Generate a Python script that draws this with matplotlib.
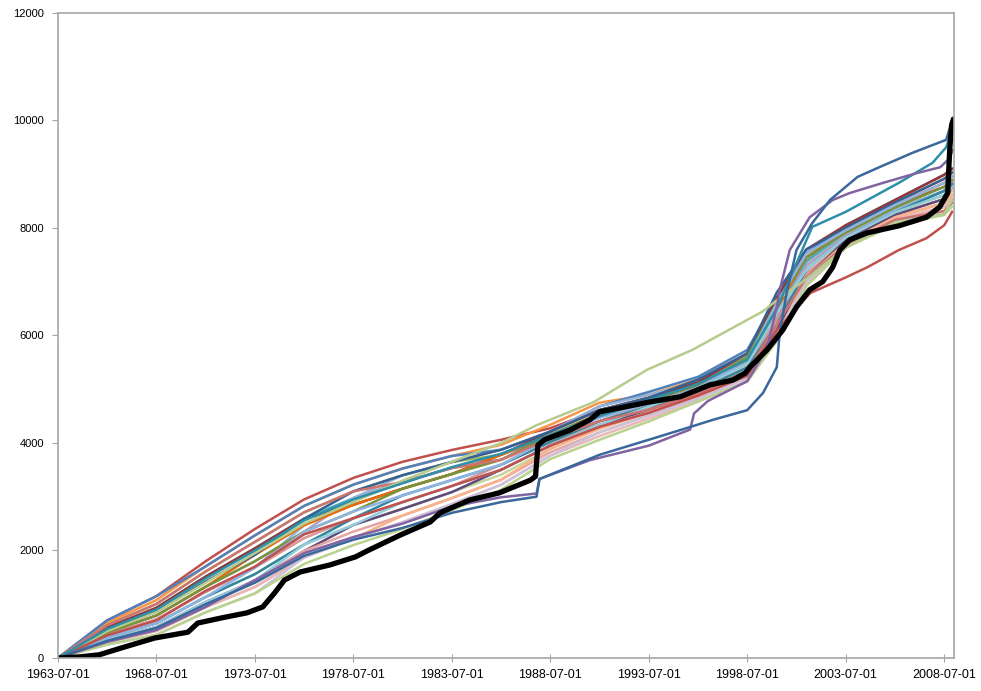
import matplotlib
matplotlib.use("Agg")
import matplotlib.pyplot as plt

# common sample years for most of the thin lines
grid_years = [1963.5, 1966, 1968.5, 1971, 1973.5, 1976, 1978.5, 1981, 1983.5, 1986,
              1988.5, 1991, 1993.5, 1996, 1998.5, 2000, 2001.5, 2003.5, 2006, 2008.5, 2008.9]

s01 = [0, 700, 1150, 1800, 2400, 2950, 3350, 3650, 3870, 4060, 4276, 4612, 4840, 5077, 5470, 6300, 7375, 7958, 8428, 8765, 8890]
s02 = [0, 655, 1078, 1705, 2280, 2830, 3225, 3525, 3758, 3967, 4340, 4750, 4895, 5179, 5665, 6600, 7450, 8004, 8474, 8915, 9030]
s03 = [0, 700, 1150, 1705, 2280, 2830, 3225, 3525, 3758, 3874, 4212, 4681, 4950, 5230, 5730, 6700, 7525, 8050, 8520, 8990, 9100]
s04 = [0, 610, 1006, 1610, 2160, 2710, 3100, 3400, 3646, 3781, 4148, 4543, 4730, 5026, 5535, 6400, 7300, 7866, 8290, 8615, 8750]
s05 = [0, 565, 934, 1515, 2040, 2590, 2975, 3275, 3534, 3688, 4084, 4405, 4675, 4924, 5340, 6500, 7375, 7912, 8336, 8690, 8820]
s06 = [0, 520, 862, 1420, 1920, 2470, 2850, 3150, 3422, 3688, 4020, 4336, 4620, 4924, 5275, 6100, 7150, 7774, 8244, 8540, 8680]
s07 = [0, 475, 790, 1325, 1800, 2350, 2975, 3275, 3534, 3781, 4084, 4474, 4730, 4975, 5405, 6400, 7300, 7866, 8336, 8690, 8820]
s08 = [0, 430, 718, 1230, 1680, 2470, 2975, 3400, 3646, 3874, 4212, 4681, 4895, 5128, 5600, 6700, 7450, 7912, 8336, 8690, 8820]
s09 = [0, 430, 718, 1230, 1680, 2230, 2600, 2900, 3198, 3595, 4020, 4405, 4730, 5077, 5470, 6300, 7150, 7728, 8198, 8465, 8610]
s10 = [0, 385, 646, 1135, 1560, 2110, 2475, 2775, 3086, 3409, 3892, 4267, 4565, 4873, 5275, 6000, 7000, 7636, 8106, 8315, 8470]
s11 = [0, 565, 934, 1515, 2040, 2590, 2850, 3150, 3422, 3781, 4212, 4612, 4840, 5128, 5665, 6700, 7600, 8050, 8520, 8990, 9100]
s12 = [0, 475, 790, 1325, 1920, 2470, 2850, 3150, 3422, 3781, 4148, 4543, 4785, 5026, 5470, 6500, 7450, 7958, 8428, 8840, 8960]
s13 = [0, 520, 862, 1420, 1920, 2590, 3100, 3400, 3646, 3874, 4212, 4612, 4840, 5179, 5665, 6800, 7600, 8004, 8474, 8915, 9030]
s14 = [0, 475, 790, 1325, 1800, 2350, 2725, 3150, 3422, 3688, 4148, 4543, 4785, 5077, 5600, 6600, 7450, 7912, 8382, 8765, 8890]
s15 = [0, 385, 646, 1135, 1560, 2110, 2600, 3025, 3310, 3595, 4020, 4405, 4675, 4975, 5405, 6200, 7225, 7820, 8290, 8690, 8820]
s16 = [0, 340, 574, 1040, 1440, 1990, 2475, 2775, 3086, 3502, 3956, 4336, 4620, 4924, 5340, 6100, 7075, 7774, 8244, 8540, 8750]
s17 = [0, 340, 574, 1040, 1440, 1990, 2350, 2650, 2974, 3316, 3828, 4198, 4510, 4822, 5210, 5900, 6925, 7636, 8152, 8390, 8540]
s18 = [0, 340, 574, 1040, 1440, 2110, 2475, 2900, 3198, 3502, 3956, 4336, 4675, 5026, 5470, 6400, 7225, 7820, 8290, 8615, 8750]
s19 = [0, 295, 502, 945, 1320, 1870, 2225, 2650, 2974, 3316, 3892, 4267, 4565, 4873, 5275, 6000, 7075, 7728, 8198, 8465, 8610]
s20 = [0, 295, 502, 945, 1320, 1870, 2225, 2525, 2862, 3223, 3764, 4129, 4455, 4771, 5145, 5900, 7000, 7682, 8152, 8390, 8540]
s21 = [0, 250, 430, 850, 1200, 1870, 2225, 2525, 2862, 3223, 3764, 4198, 4510, 4822, 5210, 6000, 7000, 7682, 8106, 8315, 8470]
s22 = [0, 250, 430, 850, 1200, 1750, 2100, 2400, 2750, 3130, 3700, 4060, 4400, 4771, 5145, 5900, 6925, 7636, 8060, 8240, 8400]
s23 = [0, 385, 646, 1135, 1680, 2350, 2725, 3025, 3310, 3595, 4084, 4474, 4730, 5026, 5535, 6600, 7525, 7958, 8428, 8840, 8960]
s24 = [0, 610, 1006, 1610, 2160, 2710, 3100, 3275, 3534, 3688, 4084, 4405, 4620, 4924, 5340, 6200, 7075, 7682, 8152, 8315, 8470]

# lines that leave the bundle, each with its own years
blue_years = [1963.5, 1966, 1968.5, 1971, 1973.5, 1976, 1978.5, 1981, 1983.5, 1986, 1987.8, 1987.95,
              1991, 1993.5, 1995.1, 1996.75, 1998.5, 1999.3, 2000.0, 2000.15, 2000.5, 2001.0, 2001.8,
              2002.7, 2004.1, 2005.2, 2006.9, 2008.6, 2008.95]
blue_vals = [0, 320, 560, 1000, 1400, 1900, 2200, 2420, 2700, 2900, 3000, 3330,
             3780, 4060, 4240, 4430, 4610, 4930, 5410, 6050, 6790, 7590, 8090,
             8520, 8950, 9130, 9400, 9640, 10050]

purple_years = [1963.5, 1966, 1968.5, 1971, 1973.5, 1976, 1978.5, 1981, 1983.5, 1986, 1987.8, 1987.95,
                1990.5, 1993.5, 1995.6, 1995.8, 1996.5, 1998.5, 1999.5, 2000.0, 2000.15, 2000.66,
                2001.67, 2002.84, 2003.7, 2005.4, 2007.1, 2008.3, 2008.7, 2008.95]
purple_vals = [0, 300, 520, 950, 1450, 1950, 2250, 2500, 2820, 2990, 3060, 3330,
               3680, 3950, 4250, 4550, 4780, 5150, 5750, 6530, 6850, 7590,
               8200, 8520, 8650, 8840, 9020, 9130, 9270, 9450]

green_years = [1963.5, 1966, 1968.5, 1971, 1973.5, 1976, 1978.5, 1981, 1983.5, 1986, 1987.8, 1990.7,
               1993.4, 1995.7, 1997.1, 1998.5, 1999.3, 2000.15, 2001.5, 2003.5, 2006, 2008.5, 2008.9]
green_vals = [0, 500, 860, 1400, 1950, 2500, 2900, 3300, 3650, 4000, 4330, 4760,
              5360, 5730, 6010, 6290, 6450, 6700, 7050, 7640, 8100, 8260, 8520]

red_years = [1963.5, 1966, 1968.5, 1971, 1973.5, 1976, 1978.5, 1981, 1983.5, 1986, 1988.5, 1991,
             1993.5, 1996, 1998.5, 2000, 2001.7, 2003.5, 2004.6, 2006.2, 2007.6, 2008.5, 2008.9]
red_vals = [0, 420, 700, 1250, 1700, 2300, 2600, 2900, 3200, 3500, 3950, 4300,
            4560, 4880, 5250, 6100, 6790, 7080, 7270, 7590, 7810, 8050, 8300]

teal_years = [1963.5, 1966, 1968.5, 1971, 1973.5, 1976, 1978.5, 1981, 1983.5, 1986, 1988.5, 1991,
              1993.5, 1996, 1998.5, 2000, 2001.8, 2003.5, 2004.6, 2006.2, 2007.9, 2008.6, 2008.95]
teal_vals = [0, 540, 900, 1480, 2000, 2560, 2950, 3250, 3550, 3800, 4150, 4500,
             4800, 5100, 5550, 6500, 8020, 8300, 8520, 8840, 9210, 9500, 9880]

# the thick black series
black_years = [1963.5, 1964.6, 1965.6, 1966.75, 1968.4, 1970.1, 1970.6, 1971.8, 1973.1, 1973.9,
               1974.5, 1975.0, 1975.8, 1977.3, 1978.6, 1979.3, 1980.9, 1982.4, 1982.9, 1984.4,
               1985.9, 1987.5, 1987.75, 1987.87, 1988.2, 1989.5, 1990.5, 1991.0, 1992.0, 1993.5,
               1995.1, 1996.6, 1997.76, 1998.4, 1998.63, 1999.5, 2000.3, 2001.0, 2001.67, 2002.33,
               2002.84, 2003.2, 2003.7, 2004.6, 2006.2, 2007.6, 2008.27, 2008.68, 2008.78, 2008.88,
               2008.95]
black_vals = [0, 20, 60, 190, 370, 480, 650, 745, 840, 950,
              1210, 1450, 1600, 1730, 1880, 2010, 2290, 2530, 2700, 2940,
              3070, 3310, 3380, 3960, 4060, 4240, 4430, 4580, 4650, 4760,
              4860, 5080, 5170, 5300, 5410, 5730, 6100, 6530, 6850, 7000,
              7270, 7590, 7780, 7910, 8040, 8200, 8390, 8650, 9450, 9920,
              10000]

tick_years = [1963.5, 1968.5, 1973.5, 1978.5, 1983.5, 1988.5, 1993.5, 1998.5, 2003.5, 2008.5]
tick_labels = ["1963-07-01", "1968-07-01", "1973-07-01", "1978-07-01", "1983-07-01",
               "1988-07-01", "1993-07-01", "1998-07-01", "2003-07-01", "2008-07-01"]

grid_series = [s01, s02, s03, s04, s05, s06, s07, s08, s09, s10, s11, s12,
               s13, s14, s15, s16, s17, s18, s19, s20, s21, s22, s23, s24]
grid_colors = ["#C0504D", "#F79646", "#4F81BD", "#9BBB59", "#4BACC6", "#FAC090",
               "#B2A1C7", "#95B3D7", "#D99694", "#C3D69B", "#943634", "#E46C0A",
               "#376092", "#77933C", "#31859C", "#5F497A", "#E6A5A3", "#93CDDD",
               "#F9B28A", "#E6B9B8", "#CCC1DA", "#B9D28E", "#8EB4E3", "#CD7371"]

plt.rcParams["font.family"] = ["Liberation Sans", "DejaVu Sans"]

fig = plt.figure(figsize=(9.81, 6.91), dpi=100)
ax = fig.add_axes([0.0591, 0.0478, 0.9134, 0.9334])

for vals, col in zip(grid_series, grid_colors):
    ax.plot(grid_years, vals, color=col, lw=1.8, solid_joinstyle="round")

ax.plot(green_years, green_vals, color="#B5CC8E", lw=1.8)
ax.plot(red_years, red_vals, color="#C0504D", lw=1.8)
ax.plot(teal_years, teal_vals, color="#2E8FA8", lw=1.8)
ax.plot(purple_years, purple_vals, color="#8064A2", lw=1.8)
ax.plot(blue_years, blue_vals, color="#3A679C", lw=1.8)

ax.plot(black_years, black_vals, color="black", lw=3.8, solid_joinstyle="round")

ax.set_xlim(1963.5, 2009.0)
ax.set_ylim(0, 12000)
ax.set_yticks(range(0, 12001, 2000))
ax.set_xticks(tick_years)
ax.set_xticklabels(tick_labels, fontsize=9)
ax.tick_params(axis="y", labelsize=8, direction="out", length=4, color="#A6A6A6", pad=6)
ax.tick_params(axis="x", direction="inout", length=6, color="#A6A6A6", pad=5)

for sp in ax.spines.values():
    sp.set_color("#A6A6A6")
    sp.set_linewidth(1.2)

fig.savefig("out.png", dpi=100)
